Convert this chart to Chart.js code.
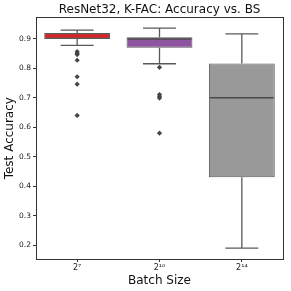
<!DOCTYPE html>
<html>
<head>
<meta charset="utf-8">
<script src="https://cdn.jsdelivr.net/npm/chart.js@4/dist/chart.umd.min.js"></script>
<style>
  html, body { margin: 0; padding: 0; background: #fff; }
  canvas { display: block; }
</style>
</head>
<body>
<canvas id="c" width="291" height="291"></canvas>
<script>
/* datos */
const sizes   = ['2\u2077', '2\u00b9\u2070', '2\u00b9\u2074'];
const whiskLo = [0.877, 0.815, 0.191];
const q1      = [0.899, 0.869, 0.431];
const med     = [0.910, 0.899, 0.700];
const q3      = [0.919, 0.905, 0.816];
const whiskHi = [0.929, 0.936, 0.916];
const out7    = [0.856, 0.851, 0.846, 0.827, 0.771, 0.746, 0.640];
const out10   = [0.803, 0.711, 0.705, 0.699, 0.580];
const yTicks  = [0.2, 0.3, 0.4, 0.5, 0.6, 0.7, 0.8, 0.9];

const fills   = ['#b2393c', '#8f55a0', '#999999'];
const medCols = ['#e41a1c', '#4a4a4a', '#4a4a4a'];
const EDGE = '#595959';

const outliers = [
  ...out7.map(v => ({ x: sizes[0], y: v })),
  ...out10.map(v => ({ x: sizes[1], y: v })),
];

/* bigotes, medianas y marco */
const boxParts = {
  id: 'boxParts',
  beforeDatasetsDraw(chart) {
    const { ctx, scales: { y } } = chart;
    const bars = chart.getDatasetMeta(0).data;
    ctx.save();
    ctx.strokeStyle = EDGE; ctx.lineWidth = 1.3;
    bars.forEach((b, i) => {
      const cap = b.width / 4;
      ctx.beginPath();
      ctx.moveTo(b.x, y.getPixelForValue(q3[i])); ctx.lineTo(b.x, y.getPixelForValue(whiskHi[i]));
      ctx.moveTo(b.x, y.getPixelForValue(q1[i])); ctx.lineTo(b.x, y.getPixelForValue(whiskLo[i]));
      ctx.moveTo(b.x - cap, y.getPixelForValue(whiskHi[i])); ctx.lineTo(b.x + cap, y.getPixelForValue(whiskHi[i]));
      ctx.moveTo(b.x - cap, y.getPixelForValue(whiskLo[i])); ctx.lineTo(b.x + cap, y.getPixelForValue(whiskLo[i]));
      ctx.stroke();
    });
    ctx.restore();
  },
  afterDatasetsDraw(chart) {
    const { ctx, scales: { y }, chartArea: a } = chart;
    const bars = chart.getDatasetMeta(0).data;
    ctx.save();
    ctx.lineWidth = 1.5;
    bars.forEach((b, i) => {
      const py = y.getPixelForValue(med[i]);
      ctx.strokeStyle = medCols[i];
      ctx.beginPath(); ctx.moveTo(b.x - b.width / 2 + 1, py); ctx.lineTo(b.x + b.width / 2 - 1, py); ctx.stroke();
    });
    ctx.strokeStyle = '#333'; ctx.lineWidth = 1;
    ctx.strokeRect(Math.round(a.left) + 0.5, Math.round(a.top) + 0.5, Math.round(a.right - a.left), Math.round(a.bottom - a.top));
    ctx.restore();
  },
};

new Chart(document.getElementById('c'), {
  type: 'bar',
  data: {
    labels: sizes,
    datasets: [
      { data: q1.map((v, i) => [v, q3[i]]), backgroundColor: fills, borderColor: EDGE, borderWidth: 1,
        borderSkipped: false, barPercentage: 0.8, categoryPercentage: 1.0 },
      { type: 'scatter', data: outliers, pointStyle: 'rectRot', pointRadius: 2.6,
        backgroundColor: '#444', borderColor: '#444', borderWidth: 0 },
    ],
  },
  options: {
    responsive: false, animation: false, events: [],
    layout: { padding: { left: 0, right: 8, top: 0, bottom: 0 } },
    plugins: {
      legend: { display: false }, tooltip: { enabled: false },
      title: { display: true, fullSize: false, text: 'ResNet32, K-FAC: Accuracy vs. BS', color: '#111',
               font: { family: 'DejaVu Sans', size: 12, weight: 'normal' }, padding: { top: 3, bottom: 0 } },
    },
    scales: {
      x: {
        afterFit: s => { s.height = 32; },
        grid: { display: true, offset: false, drawOnChartArea: false, drawTicks: true, tickLength: 3, color: '#333' },
        border: { display: false },
        ticks: { color: '#222', font: { family: 'DejaVu Sans', size: 8 }, padding: 1 },
        title: { display: true, text: 'Batch Size', color: '#111', font: { family: 'DejaVu Sans', size: 12 }, padding: { top: 0, bottom: 3 } },
      },
      y: {
        min: 0.154, max: 0.972,
        afterFit: s => { s.width = 36; },
        afterBuildTicks: s => { s.ticks = yTicks.map(v => ({ value: v })); },
        grid: { display: true, drawOnChartArea: false, drawTicks: true, tickLength: 3, color: '#333' },
        border: { display: false },
        ticks: { color: '#222', font: { family: 'DejaVu Sans', size: 7.5 }, padding: 2, callback: v => v.toFixed(1) },
        title: { display: true, text: 'Test Accuracy', color: '#111', font: { family: 'DejaVu Sans', size: 12 }, padding: { top: 3, bottom: 0 } },
      },
    },
  },
  plugins: [boxParts],
});
</script>
</body>
</html>
